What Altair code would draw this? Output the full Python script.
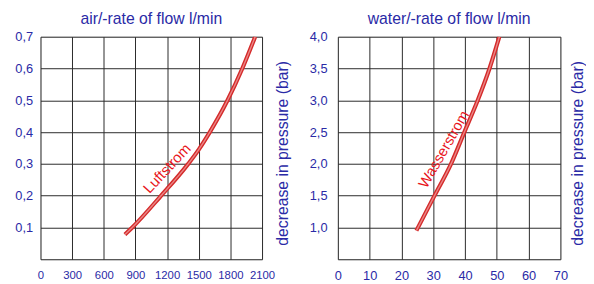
import altair as alt
import pandas as pd

# ---- data ----
air_flow = [800, 870, 1130, 1400, 1500, 1605, 1773, 1913, 2035]
air_dp = [0.078, 0.10, 0.195, 0.30, 0.345, 0.40, 0.50, 0.60, 0.70]

water_flow = [24.7, 30.4, 35.6, 39.8, 44.0, 47.7, 50.8]
water_dp = [0.95, 1.5, 2.0, 2.5, 3.0, 3.5, 4.0]

air_x_ticks = [0, 300, 600, 900, 1200, 1500, 1800, 2100]
air_y_ticks = [0.0, 0.1, 0.2, 0.3, 0.4, 0.5, 0.6, 0.7]
water_x_ticks = [0, 10, 20, 30, 40, 50, 60, 70]
water_y_ticks = [0.5, 1.0, 1.5, 2.0, 2.5, 3.0, 3.5, 4.0]

air_title = "air/-rate of flow l/min"
water_title = "water/-rate of flow l/min"
y_title = "decrease in pressure (bar)"

air_label = ["Luftstrom"]
air_label_pos = [1199, 0.286]
water_label = ["Wasserstrom"]
water_label_pos = [33.3, 2.23]

BLUE = "#2a2aa6"
RED = "#d42b2b"
PINK = "#ea8585"
GRID = "#2a2a2a"
FONT = "Liberation Sans"


def panel(flow, dp, xdom, ydom, xticks, yticks, title, label, label_pos, angle,
          w, h, xlab_size, ylab_pad, xlab_pad, title_gap):
    df = pd.DataFrame({"flow": flow, "dp": dp})
    lab = pd.DataFrame({"flow": [label_pos[0]], "dp": [label_pos[1]], "t": label})
    lo = ydom[0]
    x = alt.X("flow:Q",
              scale=alt.Scale(domain=xdom, nice=False, zero=False),
              axis=alt.Axis(values=xticks, format="d", grid=True, gridColor=GRID,
                            gridWidth=1, gridOpacity=1, domain=False, ticks=False,
                            tickSize=0, labelPadding=xlab_pad, labelFontSize=xlab_size,
                            labelColor=BLUE, labelFont=FONT, labelFlush=False,
                            labelOverlap=False, title=None))
    y = alt.Y("dp:Q",
              scale=alt.Scale(domain=ydom, nice=False, zero=False),
              axis=alt.Axis(values=yticks, grid=True, gridColor=GRID, gridWidth=1,
                            gridOpacity=1, domain=False, ticks=False, tickSize=0,
                            labelPadding=ylab_pad, labelFontSize=13,
                            labelColor=BLUE, labelFont=FONT, labelFlush=False,
                            labelOverlap=False,
                            labelExpr=f"datum.value <= {lo} + 1e-9 ? '' : replace(format(datum.value, '.1f'), '.', ',')",
                            title=y_title, titleFont=FONT, titleFontSize=16,
                            titleFontWeight="normal", titleColor=BLUE,
                            titleAngle=270, titleAlign="center",
                            titleBaseline="alphabetic",
                            titleX=w + title_gap, titleY=h / 2 + 5))
    base = alt.Chart(df).encode(x=x, y=y)
    outer = base.mark_line(color=RED, strokeWidth=4.2, interpolate="monotone", clip=True)
    inner = base.mark_line(color=PINK, strokeWidth=1.4, interpolate="monotone", clip=True)
    text = alt.Chart(lab).mark_text(color="#e8151b", fontSize=15, font=FONT,
                                    angle=angle, align="center", baseline="middle").encode(
        x=x, y=y, text="t:N")
    return alt.layer(outer, inner, text).properties(
        width=w, height=h,
        title=alt.TitleParams(title, font=FONT, fontSize=16, fontWeight="normal",
                              color=BLUE, offset=4))


left = panel(air_flow, air_dp, [0, 2100], [0, 0.7], air_x_ticks, air_y_ticks,
             air_title, air_label, air_label_pos, 313, 225, 226, 11.5, 8, 11, 26)
right = panel(water_flow, water_dp, [0, 70], [0.5, 4.0], water_x_ticks, water_y_ticks,
              water_title, water_label, water_label_pos, 300, 226, 226, 13, 11, 11, 22)

chart = alt.hconcat(left, right, spacing=77, bounds="flush").properties(
    padding={"left": 6, "top": 0, "right": 0, "bottom": 0}
).configure_view(stroke=GRID, strokeWidth=1.2).configure(background="white")

chart.save("out.html", embed_options={"renderer": "svg", "actions": False})
